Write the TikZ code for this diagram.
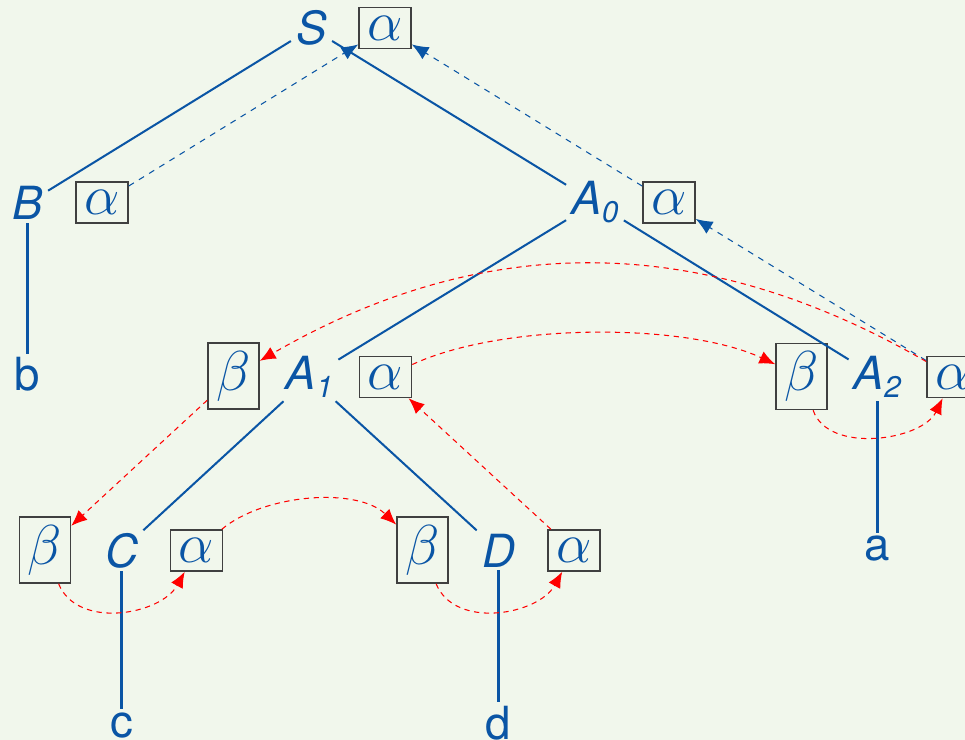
\RequirePackage{fix-cm}
\documentclass[tikz,border=0pt]{standalone}
\usepackage{fontspec}
\setsansfont{TeX Gyre Heros}
\usetikzlibrary{arrows.meta}
\definecolor{bg}{RGB}{241,247,236}
\definecolor{tblue}{RGB}{10,85,165}
\newcommand\mysub[1]{\raisebox{-4.5pt}{\fontsize{17}{18}\selectfont #1}}
\begin{document}
\begin{tikzpicture}[x=0.02cm,y=0.02cm,
  nt/.style={font=\fontsize{26}{30}\selectfont\sffamily\itshape, text=tblue, inner xsep=0.1cm, inner ysep=0.06cm, anchor=base},
  tm/.style={font=\fontsize{26}{30}\selectfont\sffamily, text=tblue, inner xsep=0.1cm, inner ysep=0.06cm, anchor=base},
  abox/.style={draw=black!75, line width=0.9pt, inner sep=0pt, minimum width=1.04cm, minimum height=0.82cm, text=tblue, font=\fontsize{32}{36}\selectfont},
  bbox/.style={abox, minimum width=1.02cm, minimum height=1.32cm},
  tree/.style={draw=tblue, line width=1.15pt},
  bdash/.style={draw=tblue, line width=0.6pt, dash pattern=on 3.4pt off 3.4pt, -{Latex[length=9.5pt,width=8pt]}},
  rdash/.style={draw=red, line width=0.6pt, dash pattern=on 3pt off 2.6pt, -{Latex[length=9pt,width=7.5pt]}},
]
\useasboundingbox (0,0) rectangle (965,-740);
\clip (0,0) rectangle (965,-740);
\fill[bg] (0,0) rectangle (965,-740);

% nonterminals and terminals
\node[nt] (S) at (311.5,-45) {S};
\node[nt] (B) at (27.5,-220) {B};
\node[nt] (A0) at (595,-215) {A\mysub{0}};
\node[nt] (A1) at (309.5,-390) {A\mysub{1}};
\node[nt] (A2) at (877.5,-390) {A\mysub{2}};
\node[nt] (C) at (121.5,-567) {C};
\node[nt] (D) at (498.5,-567) {D};
\node[tm] (b) at (27.5,-391) {b};
\node[tm] (a) at (877.5,-561) {a};
\node[tm] (c) at (121.5,-737) {c};
\node[tm] (d) at (498.5,-739) {d};

% boxes
\node[abox] (Sa) at (385,-28) {$\alpha$};
\node[abox] (Ba) at (102,-202.5) {$\alpha$};
\node[abox] (A0a) at (669,-202.5) {$\alpha$};
\node[bbox] (A1b) at (233.5,-376) {$\beta$};
\node[abox] (A1a) at (385.5,-377) {$\alpha$};
\node[bbox] (A2b) at (801.5,-376.5) {$\beta$};
\node[abox] (A2a) at (953,-377) {$\alpha$};
\node[bbox] (Cb) at (45,-550) {$\beta$};
\node[abox] (Ca) at (196.5,-550.5) {$\alpha$};
\node[bbox] (Db) at (422.5,-550) {$\beta$};
\node[abox] (Da) at (574,-550.5) {$\alpha$};

% tree edges
\draw[tree] (S) -- (B);
\draw[tree] (S) -- (A0);
\draw[tree] (B) -- (b);
\draw[tree] (A0) -- (A1);
\draw[tree] (A0) -- (A2);
\draw[tree] (A1) -- (C);
\draw[tree] (A1) -- (D);
\draw[tree] (A2) -- (a);
\draw[tree] (C) -- (c);
\draw[tree] (D) -- (d);

% blue dashed arrows
\draw[bdash] (Ba) -- (Sa);
\draw[bdash] (A0a) -- (Sa);
\draw[bdash] (A2a) -- (A0a);

% red dashed arrows
\draw[rdash] (A2a) to[out=150,in=30] (A1b);
\draw[rdash] (A1a) to[out=25,in=155,looseness=0.7] (A2b);
\draw[rdash] (A2b) to[out=-71,in=-116,looseness=0.92] (A2a);
\draw[rdash] (Cb) to[out=-68,in=-119] (Ca);
\draw[rdash] (Db) to[out=-68,in=-119] (Da);
\draw[rdash] (Ca) to[out=40,in=136,looseness=0.8] (Db);
\draw[rdash] (A1b) -- (Cb);
\draw[rdash] (Da) -- (A1a);
\end{tikzpicture}
\end{document}
